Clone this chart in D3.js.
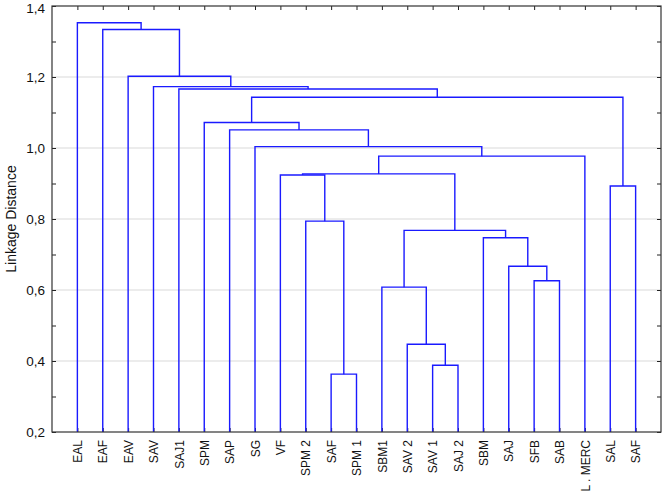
<!DOCTYPE html>
<html>
<head>
<meta charset="utf-8">
<script src="https://cdn.jsdelivr.net/npm/d3@7"></script>
<style>
  body { margin: 0; background: #fff; }
  svg { font-family: "Liberation Sans", Arial, sans-serif; }
</style>
</head>
<body>
<svg width="664" height="499"></svg>
<script>
let svg = d3.select('svg'),
    width = +svg.attr('width'),
    height = +svg.attr('height');

// leaf order along the x axis
let leaves = ['EAL', 'EAF', 'EAV', 'SAV', 'SAJ1', 'SPM', 'SAP', 'SG', 'VF', 'SPM 2', 'SAF', 'SPM 1',
  'SBM1', 'SAV 2', 'SAV 1', 'SAJ 2', 'SBM', 'SAJ', 'SFB', 'SAB', 'L . MERC', 'SAL', 'SAF'];

// merges: [a, b, distance]; ids < 23 are leaves, 23 + k is merge k
let mergeA = [10, 14, 13, 12, 18, 17, 16, 26, 9, 21, 8, 33, 34, 7, 6, 5, 38, 4, 3, 2, 1, 0];
let mergeB = [11, 15, 24, 25, 19, 27, 28, 29, 23, 22, 31, 30, 20, 35, 36, 37, 32, 39, 40, 41, 42, 43];
let mergeDist = [0.363, 0.388, 0.447, 0.608, 0.626, 0.667, 0.747, 0.768, 0.794, 0.893, 0.924,
  0.927, 0.977, 1.004, 1.051, 1.072, 1.143, 1.166, 1.173, 1.202, 1.334, 1.353];

let yTicks = [0.2, 0.4, 0.6, 0.8, 1.0, 1.2, 1.4];
let yMinor = [0.3, 0.5, 0.7, 0.9, 1.1, 1.3];

let margin = {left: 52, top: 6, right: 3, bottom: 67};
let x = d3.scalePoint()
    .domain(d3.range(leaves.length))
    .range([margin.left, width - margin.right])
    .padding(1);
let y = d3.scaleLinear()
    .domain([0.2, 1.4])
    .range([height - margin.bottom, margin.top]);

let fmt = d => d3.format('.1f')(d).replace('.', ',');

// grid
svg.append('g').selectAll('line')
  .data(yTicks.slice(1, -1))
  .enter().append('line')
    .attr('x1', margin.left).attr('x2', width - margin.right)
    .attr('y1', d => y(d)).attr('y2', d => y(d))
    .attr('stroke', '#d9d9d9').attr('stroke-width', 1);

// node positions
let pos = [];
leaves.forEach((l, i) => { pos[i] = {x: x(i), h: 0.2}; });
let segs = [];
for (let k = 0; k < mergeDist.length; k++) {
  let a = pos[mergeA[k]], b = pos[mergeB[k]], h = mergeDist[k];
  segs.push([[a.x, y(a.h)], [a.x, y(h)], [b.x, y(h)], [b.x, y(b.h)]]);
  pos[leaves.length + k] = {x: (a.x + b.x) / 2, h: h};
}

// axes (inward ticks)
let axL = svg.append('g').attr('transform', 'translate(' + margin.left + ',0)')
  .call(d3.axisLeft(y).tickValues(yTicks).tickFormat(fmt).tickSize(-4).tickPadding(7));
let axR = svg.append('g').attr('transform', 'translate(' + (width - margin.right) + ',0)')
  .call(d3.axisRight(y).tickValues(yTicks).tickFormat('').tickSize(-4));
let axLm = svg.append('g').attr('transform', 'translate(' + margin.left + ',0)')
  .call(d3.axisLeft(y).tickValues(yMinor).tickFormat('').tickSize(-4));
let axRm = svg.append('g').attr('transform', 'translate(' + (width - margin.right) + ',0)')
  .call(d3.axisRight(y).tickValues(yMinor).tickFormat('').tickSize(-4));
let axT = svg.append('g').attr('transform', 'translate(0,' + margin.top + ')')
  .call(d3.axisTop(x).tickFormat('').tickSize(-4));
let axB = svg.append('g').attr('transform', 'translate(0,' + (height - margin.bottom) + ')')
  .call(d3.axisBottom(x).tickFormat(i => leaves[i]).tickSize(-4).tickPadding(6));

[axL, axR, axLm, axRm, axT, axB].forEach(g => {
  g.select('.domain').remove();
  g.selectAll('.tick line').attr('stroke', '#222');
});
axL.selectAll('text').attr('font-size', 13.5).attr('fill', '#111')
  .attr('dy', d => d === 1.4 ? '0.45em' : '0.32em');
axB.selectAll('text')
  .attr('font-size', 12).attr('fill', '#111')
  .attr('text-anchor', 'end')
  .attr('transform', 'rotate(-90)')
  .attr('x', -8).attr('y', 0).attr('dy', '0.35em');

// dendrogram links
svg.append('g').selectAll('path')
  .data(segs)
  .enter().append('path')
    .attr('d', d3.line())
    .attr('fill', 'none')
    .attr('stroke', '#1a1aff')
    .attr('stroke-width', 1.4);

// frame
svg.append('rect')
  .attr('x', margin.left).attr('y', margin.top)
  .attr('width', width - margin.left - margin.right)
  .attr('height', height - margin.top - margin.bottom)
  .attr('fill', 'none').attr('stroke', '#333').attr('stroke-width', 1.2);

svg.append('text')
  .attr('transform', 'translate(11,' + ((margin.top + height - margin.bottom) / 2) + ') rotate(-90)')
  .attr('text-anchor', 'middle')
  .attr('dy', '0.35em')
  .attr('font-size', 14)
  .attr('fill', '#111')
  .text('Linkage Distance');
</script>
</body>
</html>
